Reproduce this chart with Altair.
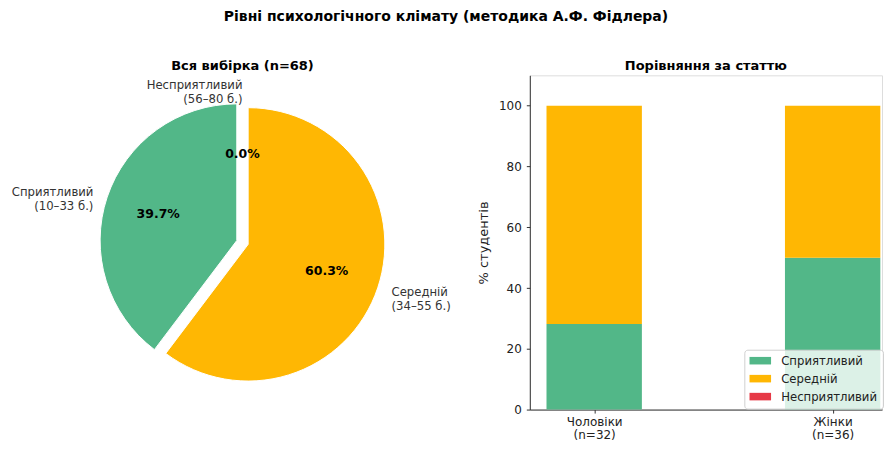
import math
import altair as alt
import pandas as pd

FONT = "DejaVu Sans"

# ---- data ----
levels = ["Сприятливий", "Середній", "Несприятливий"]
level_ranges = ["(10–33 б.)", "(34–55 б.)", "(56–80 б.)"]
colors = ["#52b788", "#ffb703", "#e63946"]
total_counts = [27, 41, 0]          # n = 68
genders = ["Чоловіки", "Жінки"]
gender_n = [32, 36]
male_counts = [9, 23, 0]
female_counts = [18, 18, 0]

main_title = "Рівні психологічного клімату (методика А.Ф. Фідлера)"
pie_title = "Вся вибірка (n=68)"
bar_title = "Порівняння за статтю"
y_title = "% студентів"

H = 335

# ---- pie table ----
R = 137
EXPLODE = 6.0
tot = sum(total_counts)
rows = []
cum = 0.0
for lvl, rng, c in zip(levels, level_ranges, total_counts):
    p = c / tot * 100
    start, end = cum, cum + p
    cum = end
    mid = (start + end) / 2
    ang = 2 * math.pi * (1 - mid / 100)
    rows.append(dict(level=lvl, start=start, end=end, mid=mid,
                     pct_label=f"{p:.1f}%", label=f"{lvl}\n{rng}",
                     side="left" if math.sin(ang) > 1e-9 else "right"))
pie_df = pd.DataFrame(rows)

theta_scale = alt.Scale(domain=[0, 100], range=[2 * math.pi, 0])
pbase = alt.Chart(pie_df)
layers = []
for lvl, col, r in zip(levels, colors, rows):
    ang = 2 * math.pi * (1 - r["mid"] / 100)
    dx = EXPLODE * math.sin(ang)
    dy = -EXPLODE * math.cos(ang)
    layers.append(
        pbase.transform_filter(alt.datum.level == lvl)
        .mark_arc(radius=R, xOffset=dx, yOffset=dy, stroke="white", strokeWidth=1)
        .encode(theta=alt.Theta("start:Q", scale=theta_scale, stack=None),
                theta2="end:Q", color=alt.value(col))
    )
pct_text = pbase.mark_text(radius=R * 0.65, fontWeight="bold", fontSize=12.5,
                           font=FONT, color="black").encode(
    theta=alt.Theta("mid:Q", scale=theta_scale, stack=None), text="pct_label:N")
lab_left = pbase.transform_filter(alt.datum.side == "left").mark_text(
    radius=R * 1.15, align="left", baseline="middle", lineBreak="\n",
    fontSize=11.7, font=FONT, color="#333", lineHeight=13.5).encode(
    theta=alt.Theta("mid:Q", scale=theta_scale, stack=None), text="label:N")
lab_right = pbase.transform_filter(alt.datum.side == "right").mark_text(
    radius=R * 1.15, align="right", baseline="middle", lineBreak="\n",
    fontSize=11.7, font=FONT, color="#333", lineHeight=13.5).encode(
    theta=alt.Theta("mid:Q", scale=theta_scale, stack=None), text="label:N")

pie = alt.layer(*layers, pct_text, lab_left, lab_right).properties(
    width=470, height=H,
    title=alt.Title(pie_title, fontSize=13, fontWeight="bold", font=FONT,
                    anchor="middle", offset=2, color="black"))

# ---- bar table (stacked percentages) ----
brow = []
for gi, (g, n, cnts) in enumerate(zip(genders, gender_n, [male_counts, female_counts])):
    acc = 0.0
    for li, (lvl, c) in enumerate(zip(levels, cnts)):
        p = c / n * 100
        brow.append(dict(gender=g, pos=gi, x0=gi - 0.2, x1=gi + 0.2,
                         level=lvl, li=li, pct=p, y0=acc, y1=acc + p))
        acc += p
bar_df = pd.DataFrame(brow)

xlabels = "[" + ",".join(f"['{g}','(n={n})']" for g, n in zip(genders, gender_n)) + "]"

bar = alt.Chart(bar_df).mark_bar().encode(
    x=alt.X("x0:Q", scale=alt.Scale(domain=[-0.27, 1.207], nice=False, zero=False),
            axis=alt.Axis(values=[0, 1], labelExpr=f"{xlabels}[datum.value]", title=None,
                          grid=False, tickSize=3.5, labelPadding=3, labelLineHeight=13,
                          labelBaseline="top")),
    x2="x1:Q",
    y=alt.Y("y0:Q", scale=alt.Scale(domain=[0, 110], nice=False),
            axis=alt.Axis(values=[0, 20, 40, 60, 80, 100], title=y_title, grid=False,
                          tickSize=3.5, labelPadding=5, titlePadding=8,
                          titleFontWeight="normal", titleFontSize=13)),
    y2="y1:Q",
    color=alt.Color("level:N", scale=alt.Scale(domain=levels, range=colors),
                    legend=alt.Legend(title=None, orient="none", legendX=215, legendY=H - 60,
                                      fillColor="rgba(255,255,255,0.8)", strokeColor="#d0d0d0",
                                      cornerRadius=3, padding=5,
                                      symbolType="M-1.8,-0.63H1.8V0.63H-1.8Z",
                                      symbolSize=144, symbolStrokeWidth=0,
                                      symbolOffset=5, labelOffset=15,
                                      labelFontSize=11.7, labelFont=FONT, labelColor="#222",
                                      rowPadding=5)),
).properties(width=353, height=H,
             title=alt.Title(bar_title, fontSize=13, fontWeight="bold", font=FONT,
                             anchor="middle", offset=2, color="black"))

chart = alt.hconcat(pie, bar, spacing=53, bounds="flush").resolve_legend(
    color="independent").properties(
    title=alt.Title(main_title, fontSize=14, fontWeight="bold", font=FONT,
                    anchor="middle", offset=36, color="black"),
    padding={"left": 0, "top": 1, "right": 0, "bottom": 0},
).configure_view(stroke=None).configure(font=FONT).configure_axis(
    labelFont=FONT, titleFont=FONT, labelFontSize=12, labelColor="#222",
    titleColor="#222", domainColor="#333", tickColor="#333")

chart.save("out.html", embed_options={"renderer": "svg", "actions": False})
